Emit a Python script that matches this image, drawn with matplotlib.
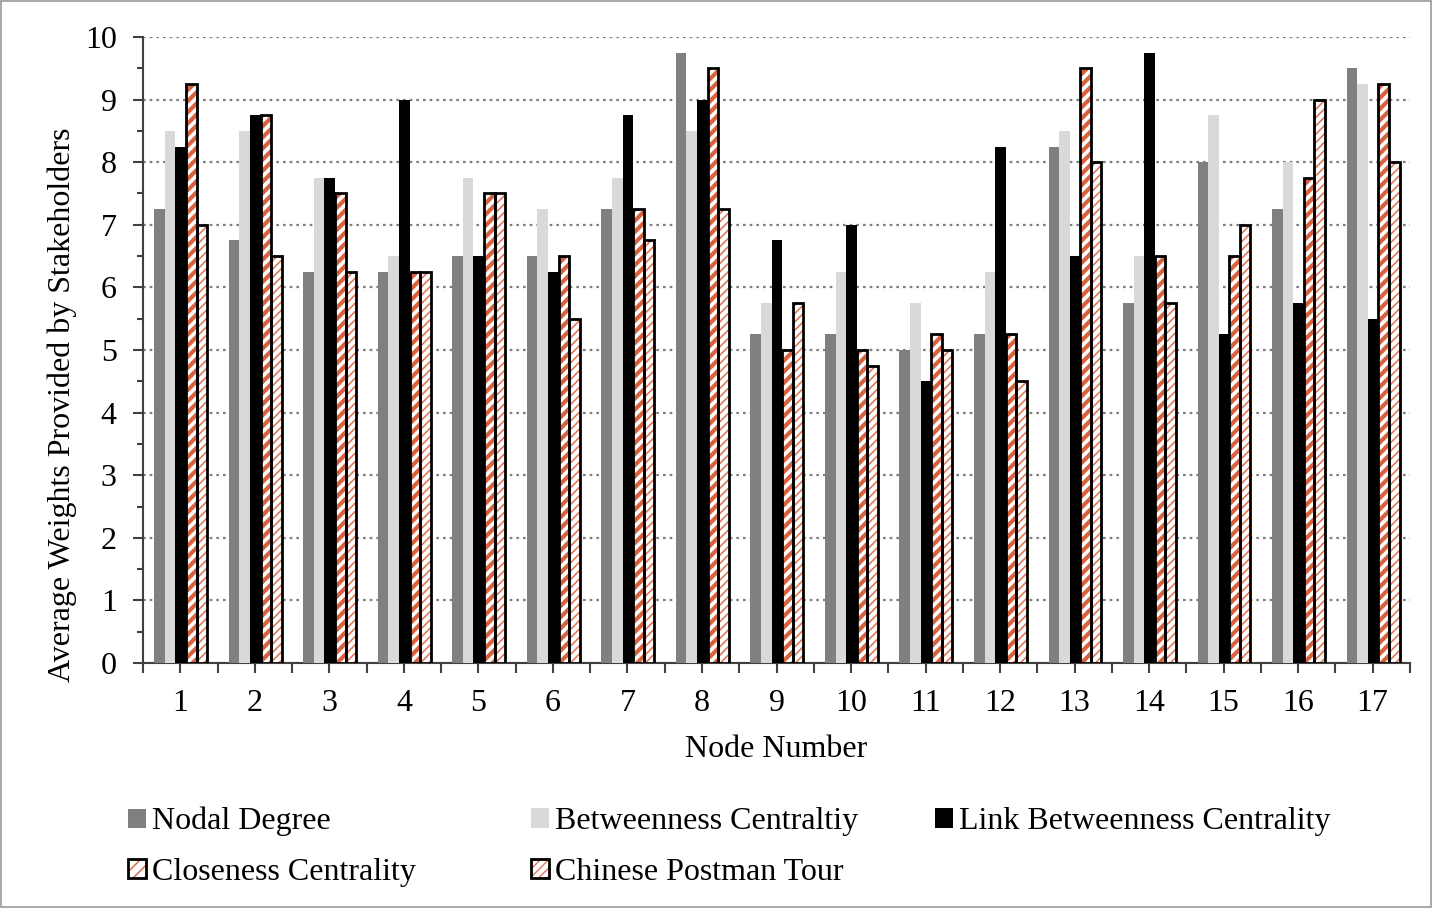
import matplotlib
matplotlib.use("Agg")
import matplotlib.pyplot as plt
import matplotlib.patches as mpatches
from matplotlib.legend_handler import HandlerTuple
from matplotlib.ticker import FixedLocator, MultipleLocator
import numpy as np

# ---- data ----
nodes = [str(i) for i in range(1, 18)]
nodal_degree = [7.25, 6.75, 6.25, 6.25, 6.5, 6.5, 7.25, 9.75, 5.25, 5.25, 5.0, 5.25, 8.25, 5.75, 8.0, 7.25, 9.5]
betweenness = [8.5, 8.5, 7.75, 6.5, 7.75, 7.25, 7.75, 8.5, 5.75, 6.25, 5.75, 6.25, 8.5, 6.5, 8.75, 8.0, 9.25]
link_betweenness = [8.25, 8.75, 7.75, 9.0, 6.5, 6.25, 8.75, 9.0, 6.75, 7.0, 4.5, 8.25, 6.5, 9.75, 5.25, 5.75, 5.5]
closeness = [9.25, 8.75, 7.5, 6.25, 7.5, 6.5, 7.25, 9.5, 5.0, 5.0, 5.25, 5.25, 9.5, 6.5, 6.5, 7.75, 9.25]
chinese_postman = [7.0, 6.5, 6.25, 6.25, 7.5, 5.5, 6.75, 7.25, 5.75, 4.75, 5.0, 4.5, 8.0, 5.75, 7.0, 9.0, 8.0]

series_labels = ["Nodal Degree", "Betweenness Centraltiy", "Link Betweenness Centrality",
                 "Closeness Centrality", "Chinese Postman Tour"]

plt.rcParams['font.family'] = ['Liberation Serif', 'DejaVu Serif']

FS = 23
GRAY_DARK = '#808080'
GRAY_LIGHT = '#d9d9d9'
ORANGE = '#d9623e'
ORANGE_LIGHT = '#e07a5c'
AXIS = '#404040'

fig = plt.figure(figsize=(14.32, 9.08), dpi=100)
ax = fig.add_axes([0.0999, 0.2698, 0.8847, 0.6895])

x = np.arange(1, len(nodes) + 1)
w = 0.142
offs = np.array([-2, -1, 0, 1, 2]) * w + 0.005


def hatched_bars(xpos, vals, hatch, hlw, hcolor):
    bars = ax.bar(xpos, vals, w, color='white', edgecolor=hcolor, hatch=hatch,
                  linewidth=0, zorder=3)
    for b in bars:
        if hasattr(b, 'set_hatch_linewidth'):
            b.set_hatch_linewidth(hlw)
    ax.bar(xpos, vals, w, fill=False, edgecolor='black', linewidth=2.0, zorder=4)
    return bars


ax.bar(x + offs[0], nodal_degree, w, color=GRAY_DARK, zorder=3)
ax.bar(x + offs[1], betweenness, w, color=GRAY_LIGHT, zorder=3)
ax.bar(x + offs[2], link_betweenness, w, color='black', zorder=3)
with plt.rc_context({'hatch.linewidth': 3.0}):
    hatched_bars(x + offs[3], closeness, '///', 3.0, ORANGE)
with plt.rc_context({'hatch.linewidth': 1.2}):
    hatched_bars(x + offs[4], chinese_postman, '////', 1.2, ORANGE_LIGHT)

# ---- axes styling ----
ax.set_xlim(0.5, len(nodes) + 0.5)
ax.set_ylim(0, 10)
ax.set_yticks(range(0, 11))
ax.yaxis.set_minor_locator(MultipleLocator(0.5))
# labelled ticks on the category centres, plain ticks on the boundaries
ax.set_xticks(x)
ax.set_xticklabels(nodes)
ax.xaxis.set_minor_locator(FixedLocator(np.arange(0.5, len(nodes) + 1, 1.0)))
ax.tick_params(axis='x', which='major', direction='out', length=7, width=1.5, color=AXIS,
               pad=12, labelsize=FS)
ax.tick_params(axis='x', which='minor', direction='out', length=7, width=1.5, color=AXIS)
ax.tick_params(axis='y', which='major', direction='out', length=7, width=1.5, color=AXIS,
               labelsize=FS, pad=12)
ax.tick_params(axis='y', which='minor', direction='out', length=4, width=1.5, color=AXIS)

for s in ['top', 'right']:
    ax.spines[s].set_visible(False)
for s in ['left', 'bottom']:
    ax.spines[s].set_color(AXIS)
    ax.spines[s].set_linewidth(1.5)

ax.yaxis.grid(True, which='major', linestyle=(0, (1.2, 1.8)), color='#7f7f7f',
              linewidth=1.6, zorder=0)
ax.set_axisbelow(True)

ax.set_xlabel("Node Number", fontsize=FS, labelpad=12)
ax.set_ylabel("Average Weights Provided by Stakeholders", fontsize=FS)
ax.yaxis.set_label_coords(-0.052, 0.412)

# ---- legend entries ----
handles = [
    mpatches.Patch(facecolor=GRAY_DARK, edgecolor='none'),
    mpatches.Patch(facecolor=GRAY_LIGHT, edgecolor='none'),
    mpatches.Patch(facecolor='black', edgecolor='none'),
    (mpatches.Patch(facecolor='white', edgecolor=ORANGE, hatch='///', linewidth=0),
     mpatches.Patch(fill=False, edgecolor='black', linewidth=2.0)),
    (mpatches.Patch(facecolor='white', edgecolor=ORANGE_LIGHT, hatch='////', linewidth=0),
     mpatches.Patch(fill=False, edgecolor='black', linewidth=2.0)),
]
legend_pos = [(0.0895, 0.095), (0.371, 0.095), (0.653, 0.095),
              (0.0895, 0.039), (0.371, 0.039)]
for h, lab, (lx, ly) in zip(handles, series_labels, legend_pos):
    fig.legend([h], [lab], loc='center left', bbox_to_anchor=(lx, ly),
               frameon=False, fontsize=FS, handlelength=0.55, handleheight=0.55,
               handletextpad=0.2, borderpad=0, borderaxespad=0,
               handler_map={tuple: HandlerTuple(ndivide=1)})

# thin frame around the whole figure
fig.patches.append(mpatches.Rectangle((0.0005, 0.001), 0.999, 0.998, transform=fig.transFigure,
                                      fill=False, edgecolor='#9a9a9a', linewidth=1.2))

fig.savefig("out.png", dpi=100)
